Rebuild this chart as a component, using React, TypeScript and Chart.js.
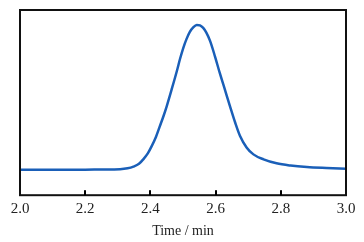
import React, { useEffect, useRef } from "react";
import { Chart, registerables } from "chart.js";

Chart.register(...registerables);

const times = [2.0, 2.1, 2.2, 2.25, 2.307, 2.33, 2.348, 2.365, 2.378, 2.392, 2.404, 2.417, 2.429, 2.44, 2.45, 2.465, 2.481, 2.491, 2.501, 2.511, 2.521, 2.532, 2.542, 2.552, 2.562, 2.572, 2.583, 2.598, 2.613, 2.629, 2.644, 2.66, 2.675, 2.695, 2.716, 2.747, 2.787, 2.83, 2.88, 2.94, 3.0];
const signal = [0, 0, 0.1, 0.3, 0.6, 1.5, 3.2, 6.0, 10.5, 16.5, 23.8, 33.0, 43.8, 53.8, 63.8, 80.5, 99, 111.5, 122.5, 131.5, 138.5, 143.3, 145.5, 145, 142.5, 137.5, 129.5, 114, 97, 80, 64, 47.5, 34, 22.5, 15.5, 10.5, 6.5, 4.3, 2.8, 1.8, 1.0];
const xTicks = [2.0, 2.2, 2.4, 2.6, 2.8, 3.0];
const xTitle = "Time / min";

const framePlugin = {
  id: "frame",
  afterDraw(chart: any) {
    const { ctx, chartArea } = chart;
    const xs = chart.scales.x;
    ctx.save();
    ctx.strokeStyle = "#111";
    ctx.lineWidth = 2;
    ctx.strokeRect(chartArea.left, chartArea.top, chartArea.right - chartArea.left, chartArea.bottom - chartArea.top);
    ctx.fillStyle = "#000";
    for (const t of xTicks) {
      if (t <= 2.0 || t >= 3.0) continue;
      const px = Math.round(xs.getPixelForValue(t));
      ctx.fillRect(px - 1, chartArea.bottom - 5, 2, 5);
    }
    ctx.restore();
  },
};

export default function App() {
  const ref = useRef<HTMLCanvasElement | null>(null);
  useEffect(() => {
    if (!ref.current) return;
    const chart = new Chart(ref.current, {
      type: "line",
      data: {
        datasets: [
          {
            data: times.map((t, i) => ({ x: t, y: signal[i] })),
            borderColor: "#1a5fb8",
            borderWidth: 2.5,
            pointRadius: 0,
            cubicInterpolationMode: "monotone",
            fill: false,
          },
        ],
      },
      options: {
        animation: false,
        responsive: false,
        maintainAspectRatio: false,
        layout: { padding: { left: 20, right: 18, top: 10, bottom: 0 } },
        plugins: { legend: { display: false }, tooltip: { enabled: false } },
        scales: {
          x: {
            type: "linear",
            min: 2.0,
            max: 3.0,
            afterBuildTicks: (axis: any) => {
              axis.ticks = xTicks.map((v) => ({ value: v }));
            },
            grid: { display: false, drawTicks: false },
            border: { display: false },
            ticks: {
              color: "#222",
              padding: 5,
              maxRotation: 0,
              font: { family: "'Liberation Serif', serif", size: 15 },
              callback: (v: any) => Number(v).toFixed(1),
            },
            title: {
              display: true,
              text: xTitle,
              color: "#222",
              padding: { top: 0, bottom: 2 },
              font: { family: "'Liberation Serif', serif", size: 14 },
            },
          },
          y: {
            display: false,
            min: -25.5,
            max: 160.5,
          },
        },
      },
      plugins: [framePlugin],
    });
    return () => chart.destroy();
  }, []);
  return (
    <div style={{ position: "absolute", left: 0, top: 0, width: 364, height: 242, background: "#fff" }}>
      <canvas ref={ref} width={364} height={242} style={{ width: 364, height: 242 }} />
    </div>
  );
}
